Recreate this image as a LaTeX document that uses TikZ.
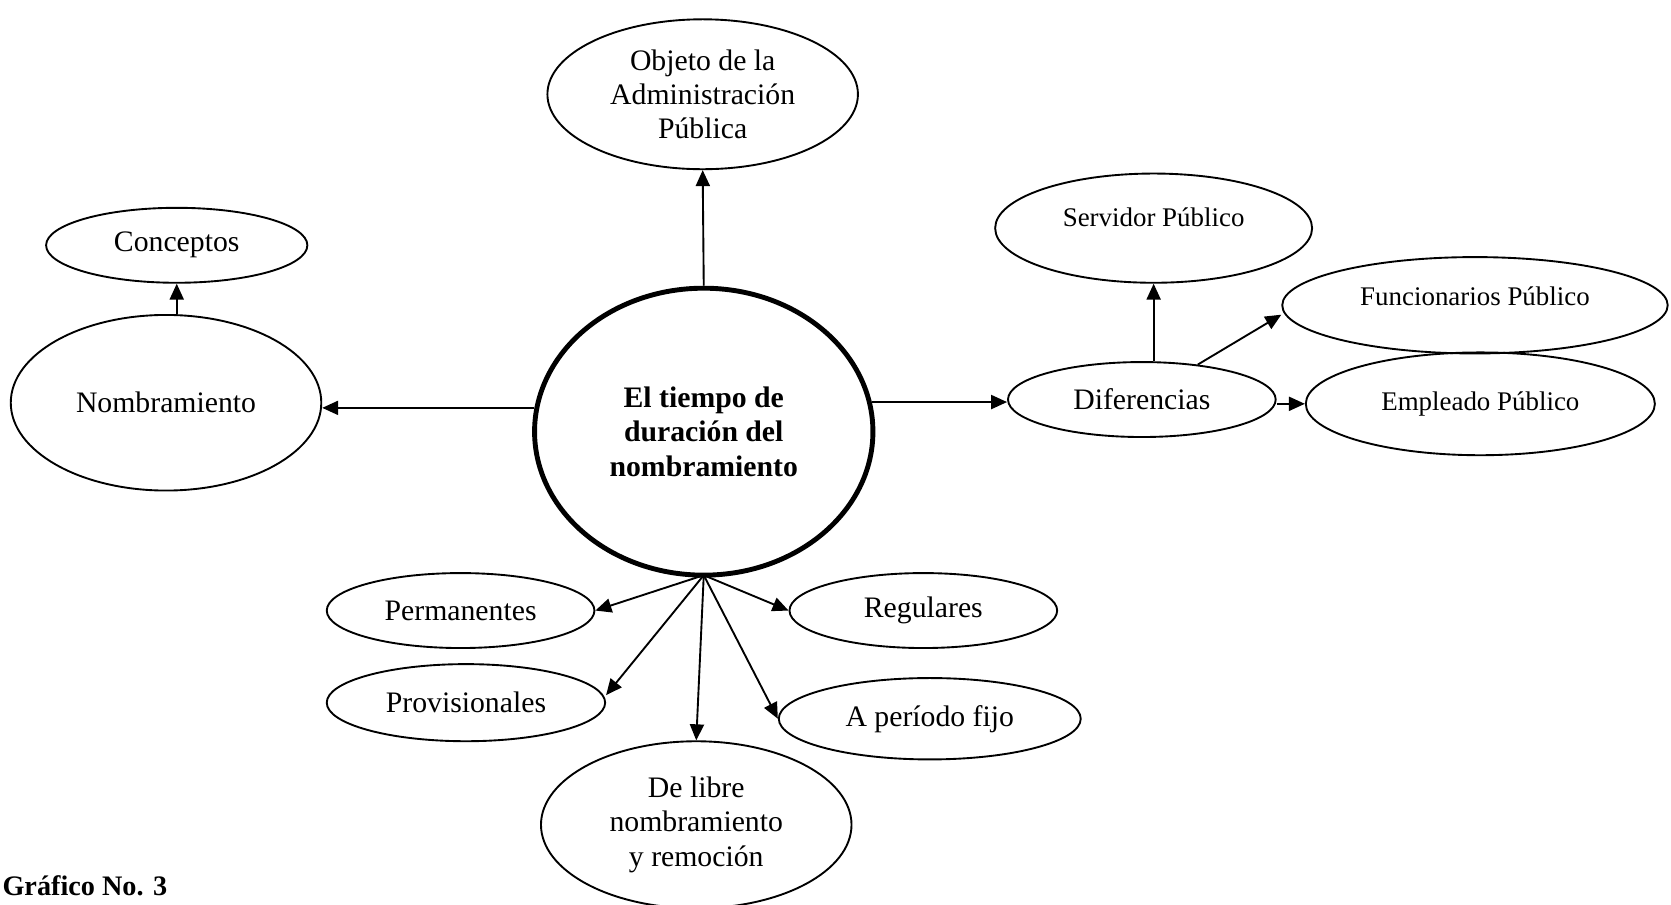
\documentclass[tikz,border=0pt]{standalone}
\usepackage{fontspec}
\setmainfont{Liberation Serif}
\usepackage{tikz}
\usetikzlibrary{positioning,shapes.geometric,arrows.meta}

\begin{document}
\begin{tikzpicture}[x=0.02cm,y=-0.02cm,
  >={Triangle[length=8.5pt,width=7.5pt]},
  oval/.style={ellipse,draw,line width=1pt,inner sep=0pt,align=center,
    font=\fontsize{15.8}{18.2}\selectfont},
  small/.style={font=\fontsize{14.3}{17}\selectfont},
  dims/.style 2 args={minimum width=0.04cm*#1,minimum height=0.04cm*#2},
  lift/.style={text depth=#1},
  link/.style={black,line width=1pt,->}]
\useasboundingbox (0,0) rectangle (1560,844);

\node[oval,dims={145}{70}] (obj) at (656,88) {Objeto de la\\Administración\\Pública};
\node[oval,dims={122}{35}] (conc) at (165,229) {Conceptos};
\node[oval,dims={145}{82}] (nomb) at (155,376) {Nombramiento};
\node[oval,dims={158}{134},line width=2.6pt,font=\fontsize{15.8}{18.5}\selectfont\bfseries] (tiempo) at (657,403) {El tiempo de\\duración del\\nombramiento};

\node[oval,small,dims={148}{51},lift=12pt] (serv) at (1077,213) {Servidor Público};
\node[oval,small,dims={180}{45},lift=10pt] (func) at (1377,285) {Funcionarios Público};
\node[oval,dims={125}{35}] (dif) at (1066,373) {Diferencias};
\node[oval,small,dims={163}{48}] (empl) at (1382,377) {Empleado Público};

\node[oval,dims={125}{35}] (perm) at (430,570) {Permanentes};
\node[oval,dims={125}{35}] (regu) at (862,570) {Regulares};
\node[oval,dims={130}{36}] (prov) at (435,656) {Provisionales};
\node[oval,dims={141}{38}] (fijo) at (868,671) {A período fijo};
\node[oval,dims={145}{78}] (libre) at (650,770) {De libre\\nombramiento\\y remoción};

\node[anchor=base west,inner sep=0pt,font=\fontsize{15}{18}\selectfont\bfseries] (graf) at (2,836) {Gráfico No. 3};

\coordinate (hub) at (657,537);

\draw[link] (tiempo.north) -- (obj.south);
\draw[link] (tiempo.172) -- (tiempo.172 -| nomb.east);
\draw[link] (conc.south |- nomb.north) -- (conc.south);
\draw[link] (tiempo.10) -- (tiempo.10 -| dif.west);

\draw[link] (serv.south |- dif.north) -- (serv.south);
\draw[link] (dif.32) -- ([yshift=-5pt]func.west);
\draw[link] (empl.west -| dif.east) -- (empl.west);

\draw[link] (hub) -- (perm.east);
\draw[link] (hub) -- (regu.west);
\draw[link] (hub) -- ([yshift=4pt]prov.east);
\draw[link] (hub) -- (fijo.west);
\draw[link] (hub) -- (libre.north);
\end{tikzpicture}
\end{document}
